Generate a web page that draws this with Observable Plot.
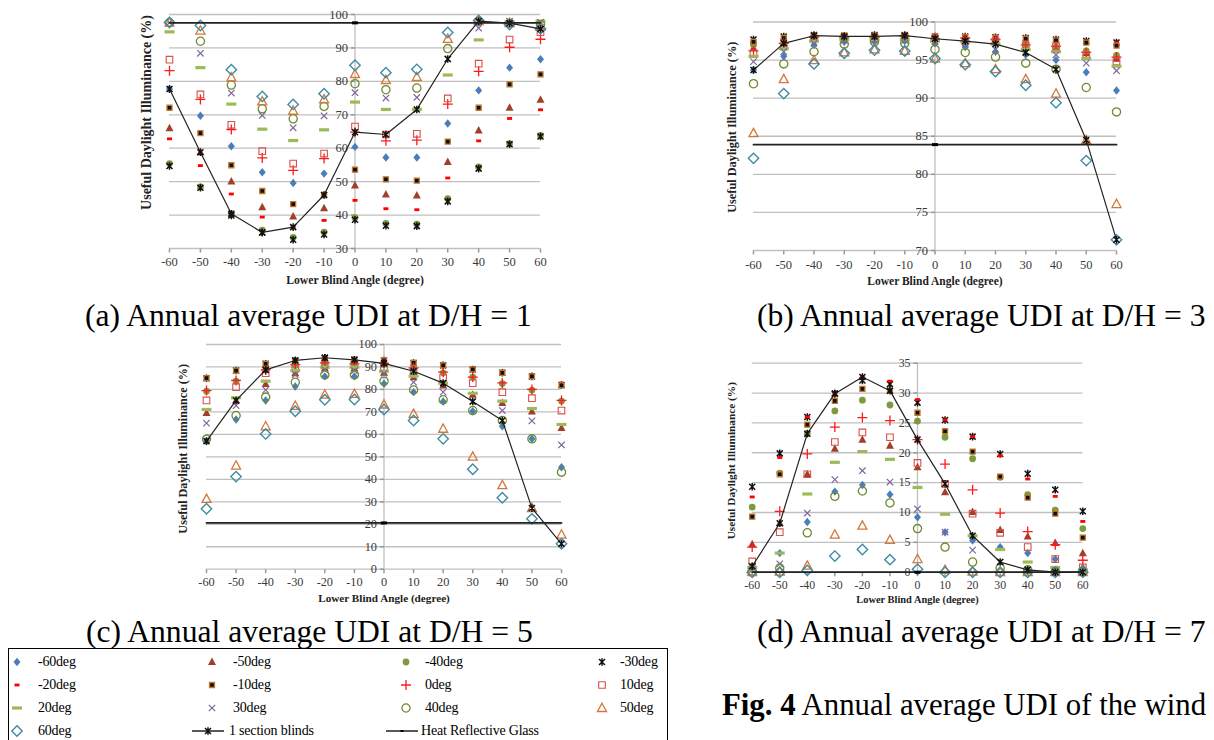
<!DOCTYPE html>
<html><head><meta charset="utf-8">
<script src="https://cdn.jsdelivr.net/npm/d3@7"></script>
<script src="https://cdn.jsdelivr.net/npm/@observablehq/plot@0.6"></script>
<style>
body{margin:0;background:#fff;}
#fig{position:relative;width:1214px;height:740px;overflow:hidden;background:#fff;font-family:"Liberation Serif","Times New Roman",serif;color:#000;}
.panel{position:absolute;}
.cap{position:absolute;font-size:31.6px;line-height:31px;white-space:nowrap;}
.legend{position:absolute;left:8px;top:648px;width:660px;height:110px;border:1px solid #000;box-sizing:border-box;}
.li{position:absolute;font-size:14px;line-height:14px;white-space:nowrap;letter-spacing:-0.2px;}
</style></head><body><div id="fig"></div>
<script>
// ---------------- data ----------------
const angles = [-60,-50,-40,-30,-20,-10,0,10,20,30,40,50,60];
const seriesNames = ["-60deg","-50deg","-40deg","-30deg","-20deg","-10deg","0deg","10deg","20deg","30deg","40deg","50deg","60deg"];

// (a) D/H = 1 : one row per upper-blind series, values at each lower blind angle
const udiA = [
 [77.7,69.7,60.6,52.8,49.6,52.4,60.4,57.2,57.2,67.4,77.3,84.1,86.6],
 [66.0,58.8,50.1,42.4,39.6,42.1,48.9,46.2,45.9,55.9,65.3,72.1,74.5],
 [55.4,48.4,40.4,35.5,33.3,34.9,39.2,37.5,37.3,44.9,54.4,61.4,63.8],
 [54.7,48.2,39.9,34.8,32.6,34.2,38.6,36.8,36.7,44.1,53.9,61.2,63.5],
 [62.8,54.8,46.3,39.4,36.4,38.4,44.4,41.9,41.6,51.1,62.2,68.9,71.5],
 [72.1,64.5,54.9,47.2,43.3,46.0,53.6,50.7,50.3,62.0,72.1,79.1,82.1],
 [83.2,74.6,65.6,57.1,53.4,56.9,64.8,62.2,62.4,73.2,83.0,90.2,92.6],
 [86.5,76.1,67.0,59.1,55.4,58.4,66.5,64.1,64.3,74.9,85.3,92.5,94.7],
 [94.8,84.1,73.2,65.7,62.3,65.5,73.8,71.6,71.6,81.9,92.4,97.8,98.0],
 [97.6,88.4,76.5,69.8,66.1,69.7,76.6,75.0,75.2,86.7,95.9,98.0,97.7],
 [97.6,92.0,78.9,71.8,68.8,72.5,79.3,77.5,78.0,89.8,98.0,97.4,97.0],
 [97.6,95.2,81.2,74.0,71.2,74.6,82.2,80.4,81.3,92.7,98.0,97.4,96.3],
 [97.6,96.7,83.5,75.5,73.1,76.3,84.8,82.6,83.6,94.6,98.2,97.0,95.7]
];
const blindsA = [77.7,58.8,40.4,34.8,36.4,46.0,64.8,64.1,71.6,86.7,98.0,97.4,95.7];
const glassA = 97.5;

// (b) D/H = 3
const udiB = [
 [93.7,95.5,97.0,97.4,97.4,97.5,97.2,96.7,96.1,95.7,95.0,93.4,91.0],
 [96.6,97.2,98.0,98.0,98.1,98.1,97.9,97.7,97.4,96.8,96.5,95.9,95.2],
 [97.0,97.6,98.2,98.1,98.1,98.1,97.9,97.8,97.5,97.0,96.7,96.2,95.6],
 [97.7,98.1,98.3,98.2,98.3,98.3,98.1,98.1,98.0,97.9,97.7,97.5,97.3],
 [97.6,98.0,98.3,98.2,98.1,98.3,98.1,98.1,98.0,97.9,97.7,97.5,97.3],
 [97.4,97.9,98.2,98.2,98.2,98.2,98.1,98.0,97.9,97.8,97.6,97.3,96.9],
 [96.2,97.2,98.0,98.0,98.0,98.1,97.8,97.9,97.7,97.0,96.8,96.0,95.4],
 [95.8,96.8,97.8,97.9,97.9,98.0,97.8,97.5,97.5,96.9,96.8,95.7,94.8],
 [95.5,96.5,97.5,97.7,97.7,97.7,97.5,97.4,97.1,96.4,96.1,95.2,94.2],
 [94.8,96.1,97.2,97.6,97.6,97.6,97.4,97.2,96.4,96.0,95.7,94.6,93.6],
 [91.9,94.5,96.1,97.1,97.4,97.2,96.4,96.0,95.4,94.6,93.8,91.4,88.2],
 [85.4,92.5,95.0,96.0,96.4,96.2,95.2,94.6,93.8,92.5,90.6,84.5,76.1],
 [82.1,90.6,94.5,95.9,96.3,96.2,95.2,94.4,93.5,91.7,89.4,81.8,71.4]
];
const blindsB = [93.7,97.2,98.2,98.1,98.1,98.2,97.8,97.5,97.1,96.0,93.8,84.5,71.4];
const glassB = 83.9;

// (c) D/H = 5
const udiC = [
 [57.0,66.6,75.1,81.3,85.8,85.8,82.5,78.8,74.6,70.3,63.6,58.0,45.4],
 [69.6,75.1,82.5,87.2,89.5,89.5,87.5,85.5,81.8,77.7,74.0,70.2,62.9],
 [79.2,83.7,88.7,90.7,91.5,91.1,91.2,89.3,87.4,85.5,82.6,79.7,74.8],
 [85.0,88.4,91.4,92.9,94.1,93.2,92.9,91.8,90.7,88.9,87.4,85.8,82.0],
 [85.5,88.7,91.7,93.2,94.1,93.4,93.2,92.1,91.1,89.6,88.1,86.6,82.8],
 [85.0,88.4,91.4,92.9,93.6,93.2,92.9,91.8,90.7,88.9,87.4,85.8,81.8],
 [79.5,84.0,88.7,91.0,91.8,91.4,91.6,89.6,87.7,85.5,82.9,80.0,75.1],
 [75.1,81.0,87.2,89.9,91.0,91.0,89.6,88.1,85.2,82.8,78.8,76.1,70.6],
 [71.1,76.3,83.7,88.4,89.9,89.9,88.1,85.9,82.8,78.3,74.8,71.5,64.4],
 [65.0,72.8,79.8,86.6,88.7,88.4,87.2,83.2,78.8,74.6,70.6,66.0,55.3],
 [57.9,68.4,76.6,83.2,86.5,86.5,83.7,79.8,75.4,70.6,66.2,58.0,43.2],
 [31.3,46.1,63.6,72.7,77.7,78.0,73.3,69.1,62.5,50.1,37.4,27.2,15.4],
 [26.9,41.2,60.2,70.3,75.4,75.5,71.1,66.2,58.0,44.5,31.8,22.4,11.3]
];
const blindsC = [57.0,75.1,88.7,92.9,94.1,93.2,91.6,88.1,82.8,74.6,66.2,27.2,11.3];
const glassC = 20.6;

// (d) D/H = 7
const udiD = [
 [1.0,3.2,8.4,13.5,14.6,13.0,9.2,6.7,5.3,4.2,3.2,2.2,0.7],
 [4.7,8.2,16.4,20.7,22.2,21.2,17.6,13.4,10.1,7.1,6.0,4.9,3.2],
 [10.9,16.6,23.2,27.0,28.8,28.0,25.3,22.6,19.0,15.9,13.0,10.4,7.3],
 [14.3,19.9,26.0,29.9,32.1,31.5,28.4,25.5,22.7,19.8,16.5,13.8,10.2],
 [12.6,19.2,26.0,30.0,32.7,32.0,28.9,25.5,22.7,19.5,15.6,12.7,8.5],
 [9.3,16.4,24.7,28.7,30.7,30.4,26.7,23.6,20.2,16.0,12.5,9.8,5.8],
 [4.2,10.2,19.8,24.3,25.9,25.4,22.2,18.1,13.8,9.9,6.8,4.6,2.0],
 [1.8,6.7,16.4,21.8,23.4,22.6,18.3,14.8,9.8,6.6,4.2,2.2,0.8],
 [0.8,3.2,13.1,18.4,20.2,18.9,14.2,9.7,6.1,3.8,1.7,0.8,0.4],
 [0.4,1.4,9.9,15.5,17.0,15.1,10.6,6.7,3.7,1.7,0.4,0.2,0.1],
 [0.2,0.7,6.6,12.7,13.6,11.6,7.3,4.2,1.7,0.7,0.4,0.1,0.1],
 [0.0,0.1,1.1,6.3,7.8,5.4,2.2,0.4,0.1,0.0,0.0,0.0,0.0],
 [0.0,0.0,0.3,2.7,3.8,2.1,0.5,0.0,0.0,0.0,0.0,0.0,0.0]
];
const blindsD = [1.0,8.2,23.2,29.9,32.7,30.4,22.2,14.8,6.1,1.7,0.4,0.0,0.0];
const glassD = 0;

const yTicksA = [30,40,50,60,70,80,90,100];
const yTicksB = [70,75,80,85,90,95,100];
const yTicksC = [0,10,20,30,40,50,60,70,80,90,100];
const yTicksD = [0,5,10,15,20,25,30,35];

const xTitle = "Lower Blind Angle (degree)";
const yTitle = "Useful Daylight Illuminance (%)";
const blindsName = "1 section blinds";
const glassName = "Heat Reflective Glass";

// ---------------- marker shapes (styles) ----------------
function poly(pts){return {draw(c){pts.forEach(([x,y],i)=>i?c.lineTo(x,y):c.moveTo(x,y));c.closePath();}};}
function segs(list){return {draw(c){list.forEach(([x1,y1,x2,y2])=>{c.moveTo(x1,y1);c.lineTo(x2,y2);});}};}
function rect(w,h){return poly([[-w/2,-h/2],[w/2,-h/2],[w/2,h/2],[-w/2,h/2]]);}
function circ(r){return {draw(c){c.moveTo(r,0);c.arc(0,0,r,0,2*Math.PI);}};}
const starSym = segs([[-3,-3,3,3],[3,-3,-3,3],[0,-3.8,0,3.8]]);
const markerStyle = {
 "-60deg": {symbol: poly([[0,-4.2],[3.5,0],[0,4.2],[-3.5,0]]), fill:"#4A7EBB", stroke:"none"},
 "-50deg": {symbol: poly([[0,-4.4],[4,3.1],[-4,3.1]]), fill:"#A0402A", stroke:"none"},
 "-40deg": {symbol: circ(3.4), fill:"#7D9B3E", stroke:"none"},
 "-30deg": {symbol: starSym, fill:"none", stroke:"#111", strokeWidth:1.5},
 "-20deg": {symbol: rect(5,2.8), fill:"#FF0000", stroke:"none"},
 "-10deg": {symbol: rect(5,5), fill:"#111", stroke:"#C0782F", strokeWidth:1.3},
 "0deg":   {symbol: segs([[-5,0,5,0],[0,-5,0,5]]), fill:"none", stroke:"#FF1A1A", strokeWidth:1.3},
 "10deg":  {symbol: rect(6.6,6.6), fill:"none", stroke:"#D9504C", strokeWidth:1.1},
 "20deg":  {symbol: rect(10,3.2), fill:"#9BBB59", stroke:"none"},
 "30deg":  {symbol: segs([[-3.2,-3.2,3.2,3.2],[3.2,-3.2,-3.2,3.2]]), fill:"none", stroke:"#8064A2", strokeWidth:1.2},
 "40deg":  {symbol: circ(4.1), fill:"none", stroke:"#6F8A2F", strokeWidth:1.3},
 "50deg":  {symbol: poly([[0,-4.8],[4.5,3.5],[-4.5,3.5]]), fill:"none", stroke:"#D2783A", strokeWidth:1.3},
 "60deg":  {symbol: poly([[0,-5.2],[5.2,0],[0,5.2],[-5.2,0]]), fill:"none", stroke:"#3F8CA3", strokeWidth:1.4}
};
const blindsStyle = {symbol: starSym, fill:"none", stroke:"#111", strokeWidth:1.5};
const glassMark = rect(6,3);
const tickLeft = segs([[-4,0,0,0]]);
const tickDown = segs([[0,0,0,4]]);

// ---------------- panels ----------------
const panels = [
 {data:udiA, blinds:blindsA, glass:glassA, yDomain:[30,100], yTicks:yTicksA, left:130, top:0, width:420, height:290,
  m:[14,10,42,39], yt:{fs:14, dx:-23, dy:-19}, xt:{fs:11.7, dy:32}, tfs:12.5, xdy:13.5},
 {data:udiB, blinds:blindsB, glass:glassB, yDomain:[70,100], yTicks:yTicksB, left:700, top:0, width:514, height:290,
  m:[21.5,98,40,53], yt:{fs:12.3, dx:-21, dy:-9}, xt:{fs:11.5, dy:31}, tfs:12.5, xdy:14},
 {data:udiC, blinds:blindsC, glass:glassC, yDomain:[0,100], yTicks:yTicksC, left:160, top:330, width:420, height:280,
  m:[14,19,41.3,46], yt:{fs:12.2, dx:-23, dy:-8}, xt:{fs:11.2, dy:29}, tfs:12.3, xdy:13},
 {data:udiD, blinds:blindsD, glass:glassD, yDomain:[0,35], yTicks:yTicksD, left:700, top:340, width:400, height:270,
  m:[22.7,17.7,38.3,51.7], yt:{fs:11.3, dx:-21, dy:-7}, xt:{fs:10.4, dy:27.6}, tfs:11.8, xdy:13.3}
];

const fig = document.getElementById("fig");
const grid = "#c0c0c0";

panels.forEach(p => {
  const [y0, y1] = p.yDomain;
  const rows = [];
  seriesNames.forEach((name, i) => angles.forEach((a, j) => rows.push({series: name, x: a, y: p.data[i][j]})));
  const blindRows = angles.map((a, j) => ({x: a, y: p.blinds[j]}));
  const glassRows = [{x: angles[0], y: p.glass}, {x: angles[angles.length - 1], y: p.glass}];
  const marks = [
    Plot.ruleY(p.yTicks, {y: d => d, x1: angles[0], x2: angles[angles.length - 1], stroke: grid, strokeWidth: 1.3}),
    Plot.ruleX([0], {x: d => d, y1: y0, y2: y1, stroke: grid, strokeWidth: 1.3}),
    Plot.dot(p.yTicks, {x: 0, y: d => d, symbol: tickLeft, stroke: "#999", r: 3}),
    Plot.dot(angles, {x: d => d, y: y0, symbol: tickDown, stroke: "#999", r: 3}),
    Plot.text(p.yTicks, {x: 0, y: d => d, text: d => String(d), textAnchor: "end", dx: -7, fontSize: p.tfs, fill: "#3a3a3a"}),
    Plot.text(angles, {x: d => d, y: y0, text: d => String(d), dy: p.xdy, fontSize: p.tfs, fill: "#3a3a3a"}),
    ...seriesNames.map(name => Plot.dot(rows.filter(r => r.series === name), {x: "x", y: "y", r: 4, ...markerStyle[name]})),
    Plot.line(blindRows, {x: "x", y: "y", stroke: "#222", strokeWidth: 1.2}),
    Plot.dot(blindRows, {x: "x", y: "y", r: 4, ...blindsStyle}),
    Plot.line(glassRows, {x: "x", y: "y", stroke: "#222", strokeWidth: 1.8}),
    Plot.dot([{x: 0, y: p.glass}], {x: "x", y: "y", r: 3, symbol: glassMark, fill: "#000", stroke: "none"}),
    Plot.text([yTitle], {frameAnchor: "left", text: d => d, rotate: -90, textAnchor: "middle", lineAnchor: "middle",
      dx: p.yt.dx, dy: p.yt.dy, fontSize: p.yt.fs, fontWeight: "bold", fill: "#222"}),
    Plot.text([xTitle], {frameAnchor: "bottom", text: d => d, textAnchor: "middle", lineAnchor: "middle",
      dy: p.xt.dy, fontSize: p.xt.fs, fontWeight: "bold", fill: "#222"})
  ];
  const svg = Plot.plot({
    width: p.width, height: p.height,
    marginTop: p.m[0], marginRight: p.m[1], marginBottom: p.m[2], marginLeft: p.m[3],
    x: {type: "linear", domain: [angles[0], angles[angles.length - 1]], axis: null},
    y: {type: "linear", domain: p.yDomain, axis: null},
    style: {fontFamily: '"Liberation Serif","Times New Roman",serif', background: "transparent", overflow: "visible"},
    marks
  });
  const div = document.createElement("div");
  div.className = "panel";
  div.style.left = p.left + "px";
  div.style.top = p.top + "px";
  div.appendChild(svg);
  fig.appendChild(div);
});

// ---------------- captions ----------------
const captions = [
  {html: "(a) Annual average UDI at D/H = 1", left: 85, top: 300},
  {html: "(b) Annual average UDI at D/H = 3", left: 757, top: 300},
  {html: "(c) Annual average UDI at D/H = 5", left: 86, top: 616},
  {html: "(d) Annual average UDI at D/H = 7", left: 757, top: 616},
  {html: "<b>Fig. 4</b> Annual average UDI of the wind", left: 722, top: 690, size: 30.8}
];
captions.forEach(c => {
  const d = document.createElement("div");
  d.className = "cap";
  d.style.left = c.left + "px";
  d.style.top = c.top + "px";
  if (c.size) d.style.fontSize = c.size + "px";
  d.innerHTML = c.html;
  fig.appendChild(d);
});

// ---------------- legend ----------------
const legend = document.createElement("div");
legend.className = "legend";
fig.appendChild(legend);
const colMarker = [8, 203, 397, 593];
const colText = [29, 224, 416, 611];
const rowY = [13, 36, 59, 82];
const legendItems = seriesNames.map(n => ({name: n, type: "marker", style: markerStyle[n]}))
  .concat([{name: blindsName, type: "blinds"}, {name: glassName, type: "glass"}]);
function symPath(sym){const pth = d3.path(); sym.draw(pth, 0); return pth.toString();}
legendItems.forEach((it, i) => {
  const col = i % 4, row = Math.floor(i / 4);
  const isLine = it.type !== "marker";
  const mx = isLine ? colMarker[col] - 21 : colMarker[col] - 10;
  const w = isLine ? 34 : 20;
  const svg = d3.create("svg").attr("width", w).attr("height", 14)
    .style("position", "absolute").style("left", mx + "px").style("top", (rowY[row] - 7) + "px");
  if (isLine) {
    svg.append("line").attr("x1", 1).attr("x2", w - 1).attr("y1", 7).attr("y2", 7).attr("stroke", "#111").attr("stroke-width", 1.4);
    if (it.type === "blinds") svg.append("path").attr("d", symPath(starSym)).attr("transform", `translate(${w/2},7)`)
      .attr("fill", "none").attr("stroke", "#111").attr("stroke-width", 1.5);
    else svg.append("path").attr("d", symPath(rect(3,2))).attr("transform", `translate(${w/2},7)`).attr("fill", "#000");
  } else {
    const s = it.style;
    svg.append("path").attr("d", symPath(s.symbol)).attr("transform", "translate(10,7)")
      .attr("fill", s.fill).attr("stroke", s.stroke).attr("stroke-width", s.strokeWidth || 1);
  }
  legend.appendChild(svg.node());
  const t = document.createElement("div");
  t.className = "li";
  t.style.left = (isLine ? colText[col] - 4 : colText[col]) + "px";
  t.style.top = (rowY[row] - 7) + "px";
  t.textContent = it.name;
  legend.appendChild(t);
});
</script></body></html>
